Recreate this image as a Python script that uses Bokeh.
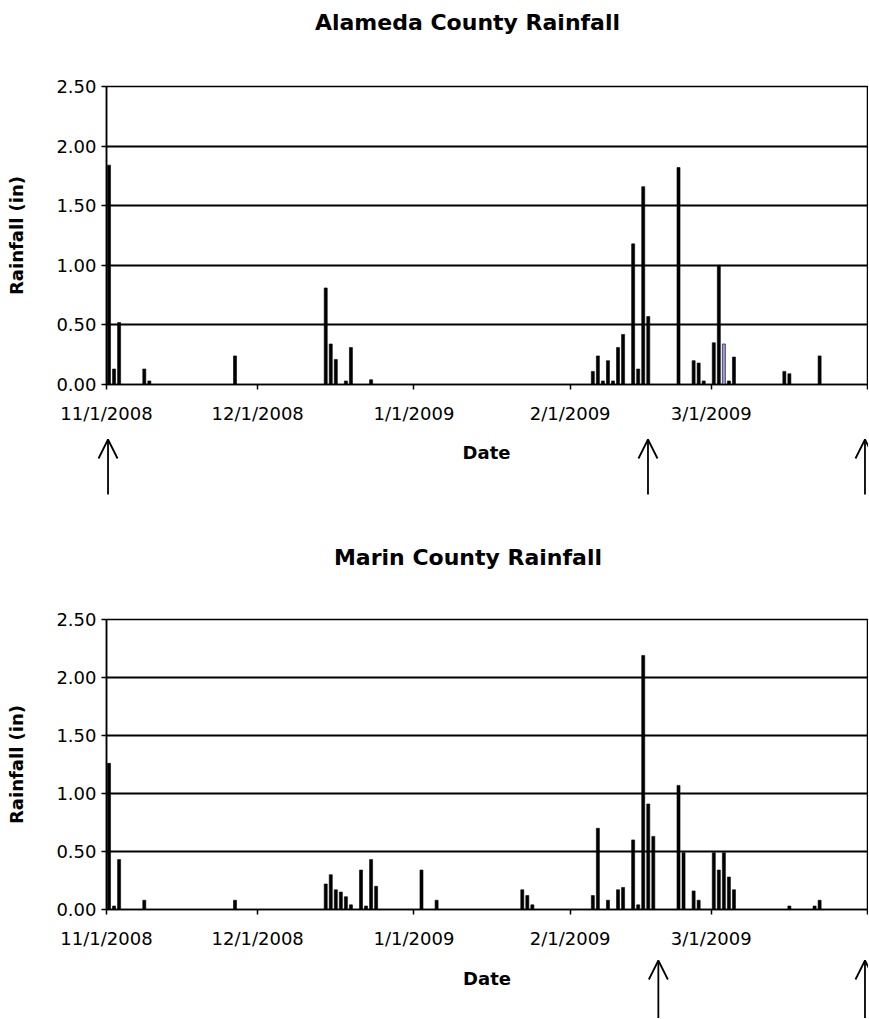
import pandas as pd
from bokeh.plotting import figure
from bokeh.layouts import column, row
from bokeh.models import (ColumnDataSource, FixedTicker, NumeralTickFormatter,
                          Range1d, Arrow, OpenHead, Label)
from bokeh.embed import file_html
from bokeh.resources import INLINE

# ---------------- data ----------------
START = "2008-11-01"
END = "2009-04-01"
month_ticks = ["2008-11-01", "2008-12-01", "2009-01-01", "2009-02-01", "2009-03-01", "2009-04-01"]
month_labels = ["11/1/2008", "12/1/2008", "1/1/2009", "2/1/2009", "3/1/2009", ""]
y_ticks = [0.0, 0.5, 1.0, 1.5, 2.0, 2.5]

alameda_dates = ["2008-11-01", "2008-11-02", "2008-11-03", "2008-11-08", "2008-11-09",
                 "2008-11-26", "2008-12-14", "2008-12-15", "2008-12-16", "2008-12-18",
                 "2008-12-19", "2008-12-23", "2009-02-05", "2009-02-06", "2009-02-07",
                 "2009-02-08", "2009-02-09", "2009-02-10", "2009-02-11", "2009-02-13",
                 "2009-02-14", "2009-02-15", "2009-02-16", "2009-02-22", "2009-02-25",
                 "2009-02-26", "2009-02-27", "2009-03-01", "2009-03-02", "2009-03-03",
                 "2009-03-04", "2009-03-05", "2009-03-15", "2009-03-16", "2009-03-22"]
alameda_rain = [1.84, 0.13, 0.52, 0.13, 0.03,
                0.24, 0.81, 0.34, 0.21, 0.03,
                0.31, 0.04, 0.11, 0.24, 0.03,
                0.20, 0.03, 0.31, 0.42, 1.18,
                0.13, 1.66, 0.57, 1.82, 0.20,
                0.18, 0.03, 0.35, 1.00, 0.34,
                0.03, 0.23, 0.11, 0.09, 0.24]
alameda_highlight = ["2009-03-03"]
alameda_arrows = ["2008-11-01", "2009-02-16", "2009-03-31"]

marin_dates = ["2008-11-01", "2008-11-02", "2008-11-03", "2008-11-08", "2008-11-26",
               "2008-12-14", "2008-12-15", "2008-12-16", "2008-12-17", "2008-12-18",
               "2008-12-19", "2008-12-21", "2008-12-22", "2008-12-23", "2008-12-24",
               "2009-01-02", "2009-01-05", "2009-01-22", "2009-01-23", "2009-01-24",
               "2009-02-05", "2009-02-06", "2009-02-08", "2009-02-10", "2009-02-11",
               "2009-02-13", "2009-02-14", "2009-02-15", "2009-02-16", "2009-02-17",
               "2009-02-22", "2009-02-23", "2009-02-25", "2009-02-26", "2009-03-01",
               "2009-03-02", "2009-03-03", "2009-03-04", "2009-03-05", "2009-03-16",
               "2009-03-21", "2009-03-22"]
marin_rain = [1.26, 0.03, 0.43, 0.08, 0.08,
              0.22, 0.30, 0.17, 0.15, 0.11,
              0.04, 0.34, 0.03, 0.43, 0.20,
              0.34, 0.08, 0.17, 0.12, 0.04,
              0.12, 0.70, 0.08, 0.17, 0.19,
              0.60, 0.04, 2.19, 0.91, 0.63,
              1.07, 0.49, 0.16, 0.08, 0.49,
              0.34, 0.49, 0.28, 0.17, 0.03,
              0.03, 0.08]
marin_highlight = []
marin_arrows = ["2009-02-18", "2009-03-31"]

# ---------------- helpers ----------------
t0 = pd.Timestamp(START)
total_days = (pd.Timestamp(END) - t0).days
Y_MAX = 2.5

FONT = "DejaVu Sans"
W = 868
B_RIGHT = 1


def day(d):
    return (pd.Timestamp(d) - t0).days


def strip(height, b_left):
    """Full-width band (title / arrows) sharing the chart's day-to-pixel mapping."""
    dpp = total_days / (W - b_left - B_RIGHT)
    s = figure(width=W, height=height,
               x_range=Range1d(-b_left * dpp, total_days + B_RIGHT * dpp),
               y_range=Range1d(height, 0),
               x_axis_location=None, y_axis_location=None,
               output_backend="svg", toolbar_location=None, min_border=0)
    s.outline_line_color = None
    s.background_fill_color = "white"
    s.border_fill_color = "white"
    s.xgrid.visible = False
    s.ygrid.visible = False
    return s, dpp


def title_strip(text, height, b_left, y_center):
    s, dpp = strip(height, b_left)
    s.add_layout(Label(x=total_days / 2 - 19 * dpp, y=y_center, text=text,
                       text_align="center", text_baseline="middle",
                       text_font=FONT, text_font_size="22px", text_font_style="bold",
                       text_color="black"))
    return s


def arrow_strip(arrows, height, b_left, date_y, tip_y, tail_y):
    s, dpp = strip(height, b_left)
    s.add_layout(Label(x=total_days / 2, y=date_y, text="Date",
                       text_align="center", text_baseline="middle",
                       text_font=FONT, text_font_size="18px", text_font_style="bold",
                       text_color="black"))
    for d in arrows:
        xa = day(d) + 0.5
        s.add_layout(Arrow(end=OpenHead(size=19, line_width=1.8, line_color="black"),
                           x_start=xa, y_start=tail_y, x_end=xa, y_end=tip_y,
                           line_width=1.8, line_color="black"))
    return s


def main_chart(dates, rain, highlight, height, b_left, b_top, b_bottom):
    p = figure(width=W, height=height,
               x_range=Range1d(0, total_days), y_range=Range1d(0, Y_MAX),
               output_backend="svg", toolbar_location=None,
               min_border_left=b_left, min_border_right=B_RIGHT,
               min_border_top=b_top, min_border_bottom=b_bottom)
    p.background_fill_color = "white"
    p.border_fill_color = "white"
    p.outline_line_color = "black"
    p.outline_line_width = 1.5

    src = ColumnDataSource(dict(
        x=[day(d) + 0.5 for d in dates],
        top=rain,
        color=["#9999ee" if d in highlight else "black" for d in dates],
    ))
    p.vbar(x="x", top="top", width=0.6, bottom=0, fill_color="color",
           line_color="black", line_width=0.6, source=src)

    tick_pos = [day(d) for d in month_ticks]
    p.xaxis.ticker = FixedTicker(ticks=tick_pos)
    p.xaxis.major_label_overrides = {t: lab for t, lab in zip(tick_pos, month_labels)}
    p.yaxis.ticker = FixedTicker(ticks=y_ticks)
    p.yaxis.formatter = NumeralTickFormatter(format="0.00")
    p.yaxis.axis_label = "Rainfall (in)"

    for ax in (p.xaxis[0], p.yaxis[0]):
        ax.axis_line_color = "black"
        ax.axis_line_width = 1.5
        ax.major_tick_line_color = "black"
        ax.major_tick_line_width = 1.5
        ax.major_tick_out = 5
        ax.major_tick_in = 0
        ax.minor_tick_line_color = None
        ax.major_label_text_font = FONT
        ax.major_label_text_font_size = "18px"
        ax.major_label_text_color = "black"
        ax.axis_label_text_font = FONT
        ax.axis_label_text_font_size = "18px"
        ax.axis_label_text_font_style = "bold"
        ax.axis_label_text_color = "black"
    p.xaxis.major_label_standoff = 13
    p.yaxis.major_label_standoff = 5
    p.yaxis.axis_label_standoff = 26

    p.xgrid.visible = False
    p.ygrid.ticker = FixedTicker(ticks=y_ticks)
    p.ygrid.grid_line_color = "black"
    p.ygrid.grid_line_width = 2
    return p


# Alameda block: page rows 0-510
t1 = title_strip("Alameda County Rainfall", 50, 105, 22)
m1 = main_chart(alameda_dates, alameda_rain, alameda_highlight, 386, 105, 36, 52)
a1 = arrow_strip(alameda_arrows, 74, 105, 16, 3, 58)

# Marin block: page rows 510-1018
t2 = title_strip("Marin County Rainfall", 70, 106, 47)
m2 = main_chart(marin_dates, marin_rain, marin_highlight, 375, 106, 39, 46)
a2 = arrow_strip(marin_arrows, 63, 106, 23, 5, 63)

# strips are wrapped in their own rows so that their plot areas keep the full width
layout = column(row(t1, spacing=0), m1, row(a1, spacing=0),
                row(t2, spacing=0), m2, row(a2, spacing=0), spacing=0)
open("out.html", "w").write(file_html(layout, INLINE))
